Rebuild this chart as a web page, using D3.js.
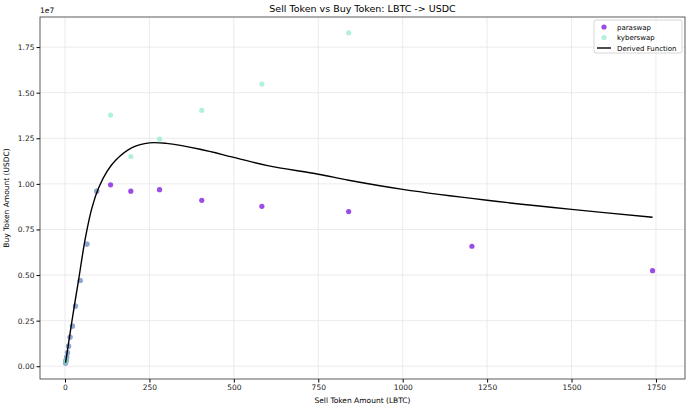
<!DOCTYPE html>
<html>
<head>
<script src="https://d3js.org/d3.v7.min.js"></script>
<style>
  body { margin: 0; background: #fff; }
  text { font-family: "DejaVu Sans", sans-serif; }
</style>
</head>
<body>
<svg width="690" height="406"></svg>
<script>
// sell amounts (LBTC)
var sellAmounts = [1.7, 2.4, 3.5, 5, 7.3, 10.5, 15, 22, 31, 45, 65, 94, 135, 195, 280, 405, 583, 840, 1205, 1740];
var paraswap = [0.018, 0.025, 0.035, 0.05, 0.075, 0.11, 0.16, 0.22, 0.33, 0.47, 0.67, 0.96, 0.995, 0.96, 0.968, 0.91, 0.877, 0.848, 0.658, 0.524];
var kyberswap = [0.018, 0.025, 0.035, 0.05, 0.075, 0.11, 0.16, 0.22, 0.33, 0.47, 0.67, 0.96, 1.377, 1.15, 1.245, 1.403, 1.547, 1.828];
// derived function
var curveX = [1.7, 10, 25, 40, 60, 80, 100, 125, 150, 200, 250, 300, 400, 500, 600, 750, 840, 1000, 1250, 1500, 1740];
var curveY = [0.02, 0.12, 0.3, 0.47, 0.7, 0.87, 0.98, 1.07, 1.13, 1.2, 1.225, 1.222, 1.19, 1.145, 1.1, 1.053, 1.02, 0.97, 0.91, 0.86, 0.817];
var xTicks = [0, 250, 500, 750, 1000, 1250, 1500, 1750];
var yTicks = [0, 0.25, 0.5, 0.75, 1.0, 1.25, 1.5, 1.75];

var margin = {top: 17, right: 5, bottom: 27, left: 40},
    width = 690 - margin.left - margin.right,
    height = 406 - margin.top - margin.bottom;

var x = d3.scaleLinear().domain([-74, 1836]).range([0, width]);
var y = d3.scaleLinear().domain([-0.07, 1.915]).range([height, 0]);

var svg = d3.select("svg").append("g")
    .attr("transform", "translate(" + margin.left + "," + margin.top + ")");

// grid
svg.selectAll(".gx").data(xTicks).enter().append("line")
    .attr("x1", d => x(d)).attr("x2", d => x(d)).attr("y1", 0).attr("y2", height)
    .attr("stroke", "#e6e6e6").attr("stroke-width", 0.8);
svg.selectAll(".gy").data(yTicks).enter().append("line")
    .attr("y1", d => y(d)).attr("y2", d => y(d)).attr("x1", 0).attr("x2", width)
    .attr("stroke", "#e6e6e6").attr("stroke-width", 0.8);

var xAxis = svg.append("g").attr("transform", "translate(0," + height + ")")
    .call(d3.axisBottom(x).tickValues(xTicks).tickSize(3.5).tickPadding(2).tickFormat(d3.format("d")));
var yAxis = svg.append("g")
    .call(d3.axisLeft(y).tickValues(yTicks).tickSize(3.5).tickPadding(2).tickFormat(d3.format(".2f")));
[xAxis, yAxis].forEach(function(a) {
    a.selectAll("text").style("font-size", "7.5px").attr("fill", "#222");
    a.select(".domain").remove();
});
svg.append("rect").attr("width", width).attr("height", height)
    .attr("fill", "none").attr("stroke", "#333").attr("stroke-width", 0.8);

// points
svg.selectAll(".p").data(sellAmounts.map((s, i) => [s, paraswap[i]])).enter().append("circle")
    .attr("cx", d => x(d[0])).attr("cy", d => y(d[1])).attr("r", 2.6)
    .attr("fill", "#8a2be2").attr("opacity", 0.85);
svg.selectAll(".k").data(kyberswap.map((v, i) => [sellAmounts[i], v])).enter().append("circle")
    .attr("cx", d => x(d[0])).attr("cy", d => y(d[1])).attr("r", 2.6)
    .attr("fill", "#7fe8c0").attr("opacity", 0.6);

// curve
var line = d3.line().x(d => x(d[0])).y(d => y(d[1])).curve(d3.curveCatmullRom);
svg.append("path").datum(curveX.map((c, i) => [c, curveY[i]]))
    .attr("d", line).attr("fill", "none").attr("stroke", "#000").attr("stroke-width", 1.4);

// labels
svg.append("text").attr("x", width / 2).attr("y", -5).attr("text-anchor", "middle")
    .style("font-size", "9.5px").text("Sell Token vs Buy Token: LBTC -> USDC");
svg.append("text").attr("x", width / 2).attr("y", height + 24).attr("text-anchor", "middle")
    .style("font-size", "7.5px").text("Sell Token Amount (LBTC)");
svg.append("text").attr("transform", "rotate(-90)").attr("x", -height / 2).attr("y", -31)
    .attr("text-anchor", "middle").style("font-size", "7.5px").text("Buy Token Amount (USDC)");
svg.append("text").attr("x", 0).attr("y", -4).style("font-size", "7.5px").text("1e7");

// legend
var lg = svg.append("g").attr("transform", "translate(" + (width - 91) + ",3)");
lg.append("rect").attr("width", 88).attr("height", 33).attr("rx", 2)
    .attr("fill", "#fff").attr("fill-opacity", 0.8).attr("stroke", "#ccc").attr("stroke-width", 0.8);
var items = [["paraswap", "#8a2be2", 0.85], ["kyberswap", "#7fe8c0", 0.6], ["Derived Function", null]];
items.forEach(function(it, i) {
    var yy = 7 + i * 10.5;
    if (it[1]) lg.append("circle").attr("cx", 10).attr("cy", yy).attr("r", 2.6).attr("fill", it[1]).attr("opacity", it[2]);
    else lg.append("line").attr("x1", 3).attr("x2", 17).attr("y1", yy).attr("y2", yy).attr("stroke", "#000").attr("stroke-width", 1.4);
    lg.append("text").attr("x", 23).attr("y", yy + 2.7).style("font-size", "7px").text(it[0]);
});
</script>
</body>
</html>
